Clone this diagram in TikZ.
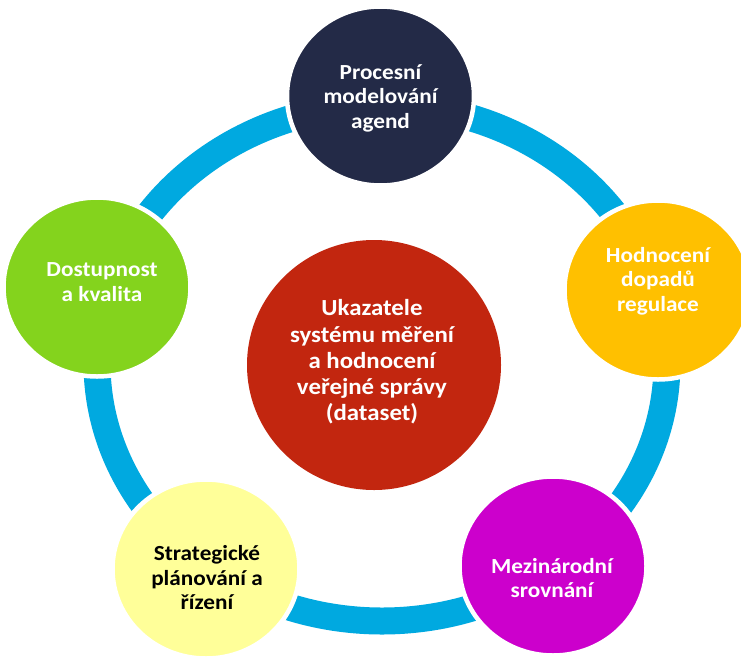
\documentclass[tikz,border=0pt]{standalone}
\usepackage{fontspec}
\setmainfont{Carlito}[FakeStretch=1.08]
\usetikzlibrary{shapes.geometric}
\definecolor{ringblue}{HTML}{00A9E0}
\definecolor{navyfill}{HTML}{232A47}
\definecolor{amberfill}{HTML}{FFC000}
\definecolor{greenfill}{HTML}{84D31D}
\definecolor{yellowfill}{HTML}{FFFF99}
\definecolor{magentafill}{HTML}{CC00CC}
\definecolor{redfill}{HTML}{C2260F}
\begin{document}
\begin{tikzpicture}[x=1pt,y=-1pt,
  bubble/.style={ellipse, draw=white, line width=4.5pt, inner sep=0pt,
    minimum width=187pt, minimum height=179pt},
  hub/.style={ellipse, inner sep=0pt, fill=redfill,
    minimum width=254pt, minimum height=250pt},
  smalltext/.style={inner sep=0pt, align=center,
    font=\fontsize{21.5}{24.5}\selectfont\bfseries},
  bigtext/.style={inner sep=0pt, align=center, text=white,
    font=\fontsize{23}{26.3}\selectfont\bfseries}]
\useasboundingbox (0,0) rectangle (741,659);
\clip (0,0) rectangle (741,659);
\fill[white] (0,0) rectangle (741,659);
\coordinate (ringc) at (382,363);
\draw[ringblue, line width=27pt] (ringc) ellipse [x radius=285, y radius=258];
% centre
\node[hub] (center) at (374,365) {};
\node[bigtext] (center-t) at (372,362) {Ukazatele\\systému měření\\a hodnocení\\veřejné správy\\(dataset)};
% outer bubbles
\node[bubble, fill=navyfill] (proc) at (380.5,96) {};
\node[smalltext, text=white] (proc-t) at (380.5,98) {Procesní\\modelování\\agend};
\node[bubble, fill=amberfill] (hodn) at (658,290) {};
\node[smalltext, text=white] (hodn-t) at (658,281) {Hodnocení\\dopadů\\regulace};
\node[bubble, fill=greenfill] (dost) at (97,287) {};
\node[smalltext, text=white] (dost-t) at (102,282) {Dostupnost\\a kvalita};
\node[bubble, fill=yellowfill] (strat) at (206,569) {};
\node[smalltext, text=black] (strat-t) at (207,578) {Strategické\\plánování a\\řízení};
\node[bubble, fill=magentafill] (mezi) at (553,566) {};
\node[smalltext, text=white] (mezi-t) at (552,578) {Mezinárodní\\srovnání};
\end{tikzpicture}
\end{document}
